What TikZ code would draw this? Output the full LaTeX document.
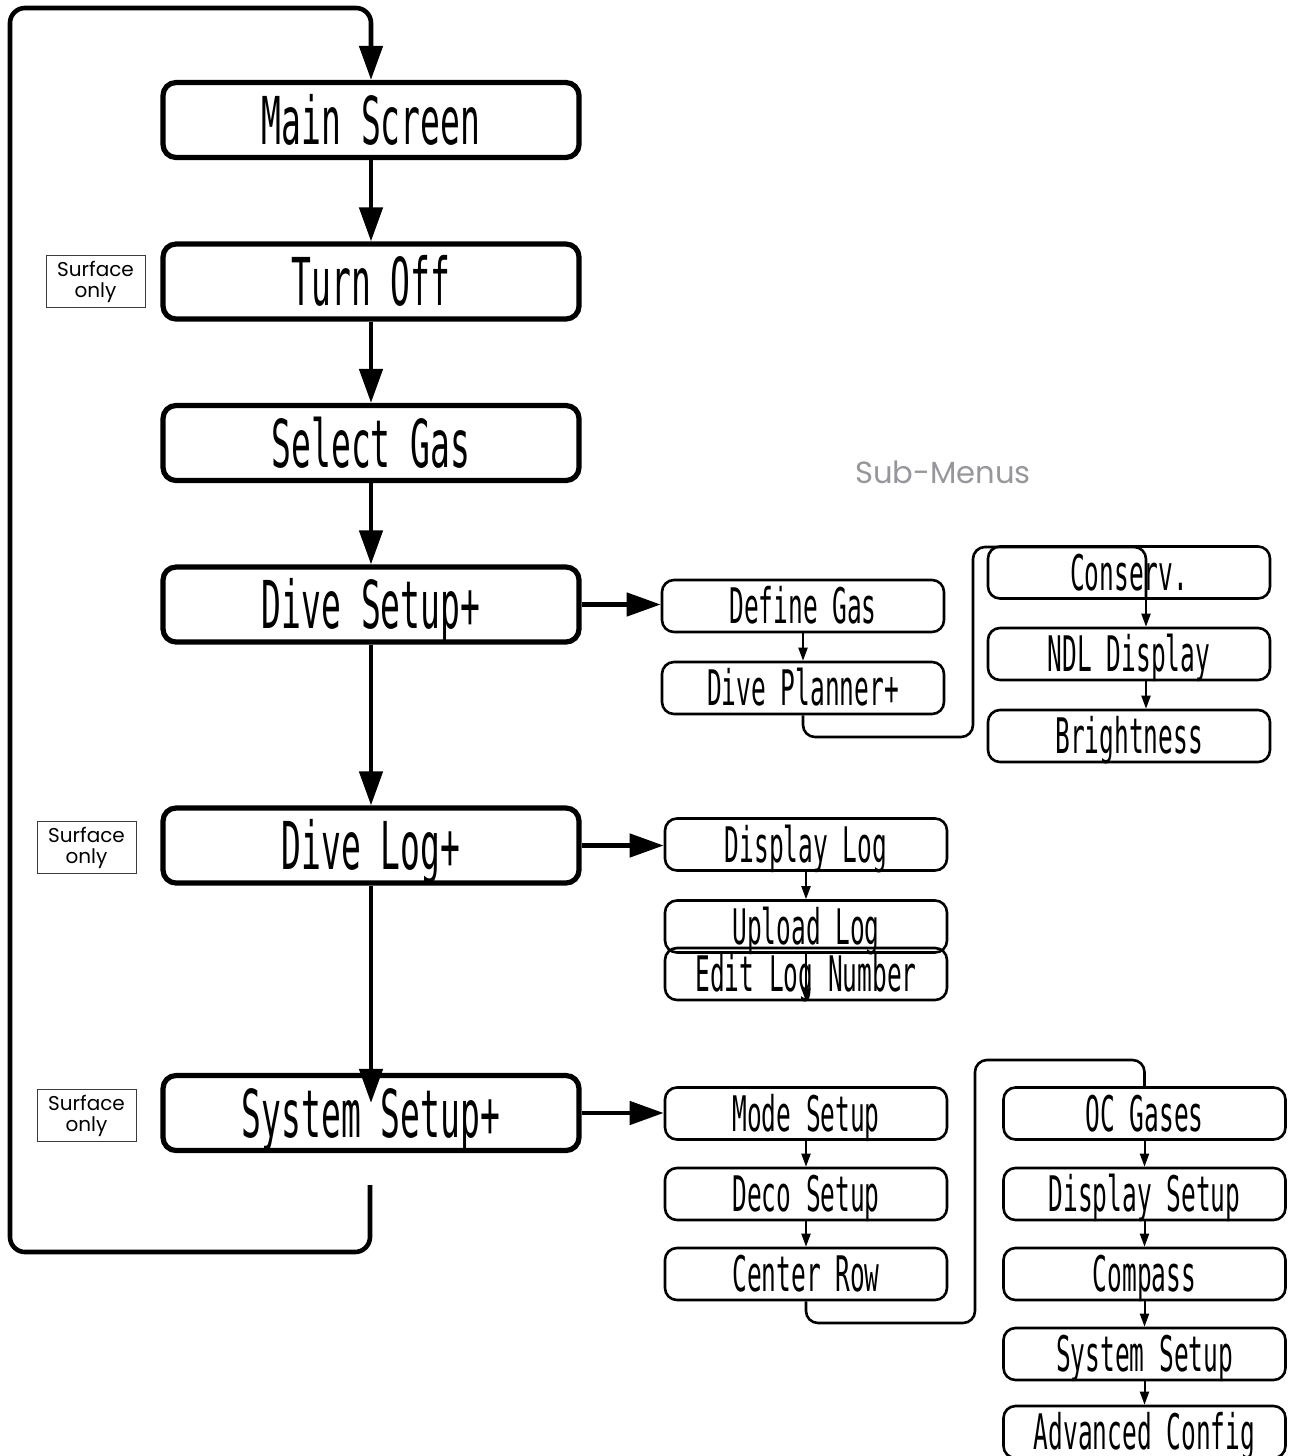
\documentclass[tikz,border=0pt]{standalone}
\usepackage{fontspec}
\usepackage{xcolor}
\usetikzlibrary{arrows.meta,calc,positioning}
\newfontfamily\lcdfont[FakeStretch=0.5]{DejaVu Sans Mono}
\newfontfamily\menufont{Poppins}
\definecolor{subgray}{RGB}{150,150,155}
\definecolor{notegray}{RGB}{60,60,60}

\begin{document}
\begin{tikzpicture}[x=0.5pt,y=-0.5pt,>=Triangle,every node/.style={inner sep=0pt}]
  \tikzset{
    mainbox/.style={draw,line width=2.6pt,rounded corners=6.5pt,minimum width=208pt,minimum height=37.5pt,font=\lcdfont\fontsize{33}{33}\selectfont,text height=24pt,text depth=0pt},
    subbox/.style={draw,line width=1.3pt,rounded corners=6pt,minimum width=141pt,minimum height=26pt,font=\lcdfont\fontsize{24.5}{24.5}\selectfont,text height=17.9pt,text depth=0pt},
    surfbox/.style={draw=notegray,line width=0.5pt,minimum width=49.5pt,minimum height=26pt,align=center,font=\menufont\fontsize{10}{10.5}\selectfont},
    conn/.style={line width=2.3pt,-{Triangle[length=17pt,width=11.5pt]}},
    subconn/.style={line width=1pt,-{Triangle[length=6.5pt,width=4.5pt]}},
    loopline/.style={line width=2.3pt,rounded corners=7.5pt},
    subline/.style={line width=1.3pt,rounded corners=6pt}
  }
  \useasboundingbox (0,0) rectangle (1291,1456);
  % main menu column
  \node[mainbox] (mainscreen) at (371,120) {Main Screen};
  \node[mainbox] (turnoff) at (371,281.5) {Turn Off};
  \node[mainbox] (selectgas) at (371,443) {Select Gas};
  \node[mainbox] (divesetup) at (371,604.5) {Dive Setup+};
  \node[mainbox] (divelog) at (371,845.5) {Dive Log+};
  \node[mainbox] (syssetup) at (371,1113) {System Setup+};
  \node[surfbox] (surf1) at (95.5,281.5) {Surface\\only};
  \node[surfbox] (surf2) at (86.5,847.5) {Surface\\only};
  \node[surfbox] (surf3) at (86.5,1115.5) {Surface\\only};
  \node[font=\menufont\fontsize{15.3}{15.3}\selectfont,text=subgray] (submenus) at (943,472) {Sub-Menus};
  % dive setup sub-menus
  \node[subbox] (definegas) at (803,606) {Define Gas};
  \node[subbox] (diveplanner) at (803,688) {Dive Planner+};
  \node[subbox] (conserv) at (1129,572.5) {Conserv.};
  \node[subbox] (ndldisplay) at (1129,654) {NDL Display};
  \node[subbox] (brightness) at (1129,736) {Brightness};
  % dive log sub-menus
  \node[subbox] (displaylog) at (806,844.5) {Display Log};
  \node[subbox] (uploadlog) at (806,926.5) {Upload Log};
  \node[subbox] (editlog) at (806,974) {Edit Log Number};
  % system setup sub-menus
  \node[subbox] (modesetup) at (806,1113.5) {Mode Setup};
  \node[subbox] (decosetup) at (806,1194) {Deco Setup};
  \node[subbox] (centerrow) at (806,1274) {Center Row};
  \node[subbox] (ocgases) at (1144.5,1113.5) {OC Gases};
  \node[subbox] (dispsetup) at (1144.5,1194) {Display Setup};
  \node[subbox] (compass) at (1144.5,1274) {Compass};
  \node[subbox] (syssetup2) at (1144.5,1354) {System Setup};
  \node[subbox] (advconfig) at (1144.5,1432) {Advanced Config};
  % loop back to main screen
  \coordinate (loopstart) at (370,1185);
  \coordinate (loopbl) at (10,1252);
  \coordinate (looptl) at (10,8);
  \draw[loopline,conn] (loopstart) |- (loopbl) -- (looptl) -| (mainscreen.north);
  \draw[conn] (mainscreen) -- (turnoff);
  \draw[conn] (turnoff) -- (selectgas);
  \draw[conn] (selectgas) -- (divesetup);
  \draw[conn] (divesetup) -- (divelog);
  \draw[conn] (divelog.south) -- ($(syssetup.north)+(0,30)$);
  \draw[conn] (divesetup.east) -- (divesetup.east -| definegas.west);
  \draw[conn] (divelog.east) -- (divelog.east -| displaylog.west);
  \draw[conn] (syssetup.east) -- (syssetup.east -| modesetup.west);
  % sub-menu links
  \draw[subconn] (definegas) -- (diveplanner);
  \coordinate (pjog1) at (973,737);
  \coordinate (pjog2) at (973,547);
  \draw[subline] (diveplanner.south) |- (pjog1) -- (pjog2) -| ($(conserv.south)+(17,0)$);
  \draw[subconn] ($(conserv.south)+(17,0)$) -- ($(ndldisplay.north)+(17,0)$);
  \draw[subconn] ($(ndldisplay.south)+(17,0)$) -- ($(brightness.north)+(17,0)$);
  \draw[subconn] (displaylog) -- (uploadlog);
  \draw[subconn] (uploadlog.south) -- (editlog.south);
  \draw[subconn] (modesetup) -- (decosetup);
  \draw[subconn] (decosetup) -- (centerrow);
  \coordinate (cjog1) at (975,1323);
  \coordinate (cjog2) at (975,1060);
  \draw[subline] (centerrow.south) |- (cjog1) -- (cjog2) -| (ocgases.north);
  \draw[subconn] (ocgases) -- (dispsetup);
  \draw[subconn] (dispsetup) -- (compass);
  \draw[subconn] (compass) -- (syssetup2);
  \draw[subconn] (syssetup2) -- (advconfig);
\end{tikzpicture}
\end{document}
